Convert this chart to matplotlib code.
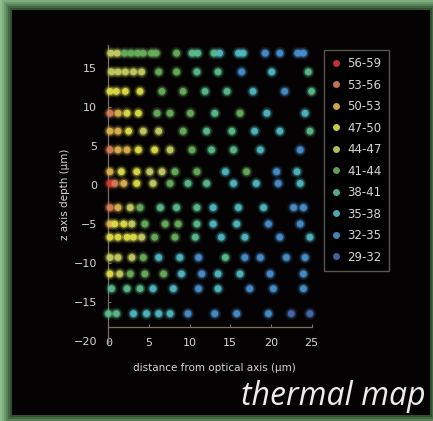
import matplotlib
matplotlib.use("Agg")
import matplotlib.pyplot as plt
from matplotlib.patches import Rectangle
from matplotlib.lines import Line2D
import numpy as np

# ---- data ----
legend_labels = ["56-59", "53-56", "50-53", "47-50", "44-47",
                 "41-44", "38-41", "35-38", "32-35", "29-32"]
bin_lows = [56, 53, 50, 47, 44, 41, 38, 35, 32, 29]
bin_colors = ["#d83a30", "#d8805a", "#e0b850", "#e2e24a", "#c8d264",
              "#6cb25e", "#5cc090", "#52bcc6", "#4a92d2", "#4a6eb0"]

row_depth = [16.9, 14.5, 12.0, 9.2, 6.9, 4.5, 1.7, 0.2, -2.9, -5.0,
             -6.7, -9.3, -11.4, -13.3, -16.5]

row_dist = [
    [0.3, 1.1, 2.0, 2.8, 3.6, 4.3, 5.3, 5.9, 8.4, 10.3, 11.0, 13.0, 13.7, 16.0, 16.6, 19.3, 21.1, 23.3, 24.0],
    [0.4, 1.2, 2.1, 3.1, 4.1, 6.2, 8.4, 10.9, 13.5, 16.4, 20.1, 24.6],
    [0.2, 1.0, 2.1, 3.9, 6.6, 9.2, 11.9, 14.6, 17.8, 21.7, 25.0],
    [0.2, 1.2, 2.3, 3.7, 6.0, 7.6, 10.1, 13.1, 16.2, 19.5, 24.2],
    [0.2, 1.2, 2.5, 4.3, 6.2, 9.2, 12.1, 15.2, 18.0, 21.1, 24.8],
    [0.2, 1.2, 2.3, 3.7, 5.7, 7.6, 10.3, 12.7, 15.4, 18.7, 23.6],
    [0.2, 1.6, 3.5, 5.1, 6.6, 8.2, 10.9, 14.4, 17.0, 20.7, 23.2],
    [0.2, 0.8, 1.9, 3.5, 5.5, 7.6, 9.8, 12.1, 15.4, 18.2, 20.9, 23.6],
    [0.2, 1.2, 2.7, 3.9, 6.4, 8.4, 10.9, 12.9, 16.0, 19.1, 22.8, 24.0],
    [0.2, 0.8, 1.9, 2.9, 4.5, 7.0, 8.6, 10.9, 12.9, 15.8, 19.7, 23.6],
    [0.2, 1.2, 2.3, 3.1, 4.1, 5.7, 8.2, 10.7, 13.9, 16.8, 21.1, 24.8],
    [0.2, 1.2, 2.9, 4.3, 6.2, 8.8, 11.1, 14.4, 16.8, 18.7, 21.9, 24.2],
    [0.2, 1.4, 2.7, 4.5, 6.8, 9.0, 11.5, 13.5, 16.2, 19.9, 24.0],
    [0.4, 2.3, 3.9, 5.5, 8.0, 11.1, 13.5, 17.4, 20.3, 24.0],
    [0.0, 1.0, 3.1, 4.7, 6.2, 7.6, 9.8, 13.1, 15.8, 19.7, 22.5, 24.8],
]

row_temp = [
    [45.5, 45.5, 42.5, 42.5, 42.5, 42.5, 42.5, 42.5, 42.5, 39.5, 39.5, 39.5, 36.5, 36.5, 36.5, 33.5, 33.5, 33.5, 33.5],
    [45.5, 45.5, 45.5, 45.5, 45.5, 42.5, 42.5, 39.5, 39.5, 33.5, 36.5, 39.5],
    [48.5, 48.5, 48.5, 48.5, 42.5, 42.5, 39.5, 39.5, 36.5, 33.5, 39.5],
    [54.5, 51.5, 48.5, 48.5, 42.5, 42.5, 42.5, 39.5, 42.5, 36.5, 36.5],
    [51.5, 51.5, 48.5, 45.5, 45.5, 42.5, 39.5, 39.5, 36.5, 36.5, 39.5],
    [54.5, 51.5, 51.5, 48.5, 48.5, 45.5, 42.5, 39.5, 39.5, 36.5, 33.5],
    [51.5, 48.5, 48.5, 45.5, 45.5, 42.5, 42.5, 36.5, 42.5, 33.5, 36.5],
    [57.5, 54.5, 51.5, 48.5, 45.5, 42.5, 39.5, 39.5, 36.5, 36.5, 33.5, 36.5],
    [54.5, 51.5, 45.5, 42.5, 39.5, 39.5, 39.5, 36.5, 36.5, 36.5, 33.5, 33.5],
    [51.5, 48.5, 48.5, 45.5, 42.5, 42.5, 42.5, 39.5, 36.5, 36.5, 33.5, 33.5],
    [48.5, 48.5, 48.5, 48.5, 45.5, 42.5, 42.5, 39.5, 36.5, 36.5, 33.5, 36.5],
    [45.5, 45.5, 45.5, 42.5, 36.5, 36.5, 33.5, 39.5, 33.5, 33.5, 33.5, 33.5],
    [48.5, 45.5, 42.5, 42.5, 42.5, 36.5, 33.5, 36.5, 36.5, 33.5, 33.5],
    [39.5, 39.5, 39.5, 36.5, 36.5, 33.5, 36.5, 33.5, 33.5, 33.5],
    [39.5, 39.5, 36.5, 36.5, 36.5, 36.5, 33.5, 33.5, 33.5, 33.5, 30.5, 30.5],
]

x_ticks = [0, 5, 10, 15, 20, 25]
y_ticks = [-20, -15, -10, -5, 0, 5, 10, 15]


def temp_color(t):
    for low, c in zip(bin_lows, bin_colors):
        if t >= low:
            return c
    return bin_colors[-1]


W, H = 433, 421
fig = plt.figure(figsize=(W / 100, H / 100), dpi=100)
fig.patch.set_facecolor("#8cbf8c")

# soft dark edge around black panel
for i, a in enumerate([0.12, 0.18, 0.25, 0.35, 0.5]):
    g = (5 - i) * 2
    fig.add_artist(Rectangle(((12 - g) / W, (6 - g) / H), (418 + 2 * g) / W, (405 + 2 * g) / H,
                             transform=fig.transFigure, facecolor="#1e3a1e", edgecolor="none",
                             alpha=a, zorder=0))
fig.add_artist(Rectangle((12 / W, 6 / H), 418 / W, 405 / H, transform=fig.transFigure,
                         facecolor="#040202", edgecolor="none", zorder=0))

ax = fig.add_axes([108.3 / W, 1 - 343.3 / H, 211.4 / W, 298.7 / H])
ax.set_facecolor("none")
ax.set_xlim(0, 26)
ax.set_ylim(-20.3, 18)

txt_col = "#d6d6d6"
for d, xs, ts in zip(row_depth, row_dist, row_temp):
    cols = [temp_color(t) for t in ts]
    ys = [d] * len(xs)
    ax.scatter(xs, ys, s=85, c=cols, alpha=0.13, edgecolors="none", clip_on=False, zorder=3)
    ax.scatter(xs, ys, s=48, c=cols, alpha=0.35, edgecolors="none", clip_on=False, zorder=4)
    ax.scatter(xs, ys, s=24, c=cols, alpha=0.9, edgecolors="none", clip_on=False, zorder=5)

for s in ["top", "right"]:
    ax.spines[s].set_visible(False)
ax.spines["bottom"].set_position(("data", -18.2))
ax.spines["bottom"].set_bounds(0, 25)
for s in ["left", "bottom"]:
    ax.spines[s].set_color("#7a6e64")
    ax.spines[s].set_linewidth(0.9)

ax.set_xticks(x_ticks)
ax.set_yticks(y_ticks)
ax.tick_params(axis="both", colors="#7a6e64", labelcolor=txt_col, labelsize=8,
               length=2, width=0.8, direction="in")
ax.tick_params(axis="y", pad=8)
ax.tick_params(axis="x", pad=8)

ax.set_xlabel("distance from optical axis (μm)", color=txt_col, fontsize=7.5, labelpad=11)
ax.set_ylabel("z axis depth (μm)", color=txt_col, fontsize=7.5, labelpad=3)

handles = [Line2D([], [], linestyle="none", marker="o", markersize=5,
                  markerfacecolor=c, markeredgecolor="none", alpha=0.9) for c in bin_colors]
leg = fig.legend(handles, legend_labels, loc="upper left",
                 bbox_to_anchor=(324 / W, 1 - 50 / H), borderaxespad=0,
                 frameon=True, fancybox=False, fontsize=8.5, labelspacing=0.72,
                 handlelength=0.8, handletextpad=0.6, borderpad=0.6,
                 labelcolor=txt_col)
leg.get_frame().set_facecolor("#000000")
leg.get_frame().set_edgecolor("#6e6a64")
leg.get_frame().set_linewidth(1.0)

fig.text(426 / W, 1 - 405 / H, "thermal map", ha="right", va="baseline",
         fontsize=23, fontstyle="italic", family="Open Sans", color="#ececec")

fig.savefig("out.png", dpi=100, facecolor=fig.get_facecolor())
